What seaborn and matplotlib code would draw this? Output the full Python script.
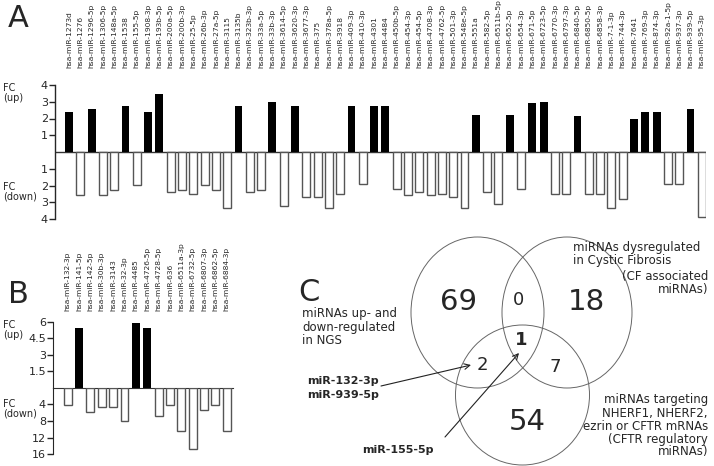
import numpy as np
import pandas as pd
import matplotlib
matplotlib.use('Agg')
import matplotlib.pyplot as plt
from matplotlib.patches import Ellipse
import seaborn as sns

# ── Data ──────────────────────────────────────────────────────────────────────
mirs_a = ['1273d', '1276', '1296-5p', '1306-5p', '148a-5p', '1538', '155-5p',
          '1908-3p', '193b-5p', '200a-5p', '200b-3p', '25-5p', '26b-3p',
          '27a-5p', '3115', '3135b', '323b-3p', '33a-5p', '33b-3p', '3614-5p',
          '3620-3p', '3677-3p', '375', '378a-5p', '3918', '409-3p', '410-3p',
          '4301', '4484', '450b-5p', '454-3p', '454-5p', '4708-3p', '4762-5p',
          '501-3p', '548e-5p', '551a', '582-5p', '6511b-5p', '652-5p',
          '654-3p', '671-5p', '6723-5p', '6770-3p', '6797-3p', '6840-5p',
          '6850-5p', '6858-3p', '7-1-3p', '744-3p', '7641', '769-3p',
          '874-3p', '92a-1-5p', '937-3p', '939-5p', '95-3p']
# signed fold change: >0 up-regulated, <0 down-regulated
fc_a = [2.4, -2.55, 2.55, -2.55, -2.25, 2.75, -1.95, 2.4, 3.45, -2.4,
        -2.25, -2.5, -1.95, -2.25, -3.35, 2.75, -2.4, -2.25, 3.0, -3.2,
        2.76, -2.67, -2.7, -3.35, -2.5, 2.76, -1.94, 2.76, 2.74, -2.18,
        -2.55, -2.4, -2.55, -2.5, -2.7, -3.35, 2.18, -2.4, -3.1, 2.18,
        -2.18, 2.9, 3.0, -2.5, -2.5, 2.14, -2.5, -2.5, -3.35, -2.8,
        1.96, 2.37, 2.37, -1.94, -1.94, 2.55, -3.88]

mirs_b = ['132-3p', '141-5p', '142-5p', '30b-3p', '3143', '32-3p', '4485',
          '4726-5p', '4728-5p', '636', '6511a-3p', '6732-5p', '6807-3p',
          '6862-5p', '6884-3p']
fc_b = [-4.15, 5.48, -5.9, -4.55, -4.55, -8.1, 5.87, 5.48, -6.7, -4.08,
        -10.4, -14.7, -5.4, -4.08, -10.4]

venn_counts = {'NGS': 69, 'NGS&CF': 0, 'CF': 18, 'NGS&CFTR': 2,
               'all': 1, 'CF&CFTR': 7, 'CFTR': 54}

# ── Figure setup ──────────────────────────────────────────────────────────────
sns.set_style('ticks')
plt.rcParams['font.family'] = ['DejaVu Sans']

W, H = 714, 466
fig = plt.figure(figsize=(W / 100, H / 100), dpi=100)


def px_axes(x0, y0, x1, y1):
    return fig.add_axes([x0 / W, 1 - y1 / H, (x1 - x0) / W, (y1 - y0) / H])


def fig_text(x, y, s, **kw):
    fig.text(x / W, 1 - y / H, s, **kw)


LBL = 5.4
TCK = 8
EDGE = '#555555'
FCS = 7

# ── Panel A ───────────────────────────────────────────────────────────────────
df_a = pd.DataFrame({'mir': ['hsa-miR-' + m for m in mirs_a], 'fc': fc_a})
df_a['dir'] = np.where(df_a['fc'] > 0, 'up', 'down')

axA = px_axes(55, 85, 706, 219)
sns.barplot(data=df_a, x='mir', y='fc', hue='dir', order=df_a['mir'],
            palette={'up': 'black', 'down': 'white'}, dodge=False,
            width=0.7, legend=False, ax=axA)
for p in axA.patches:
    if p.get_height() < 0:
        p.set_edgecolor(EDGE); p.set_linewidth(1.0)
    else:
        p.set_edgecolor('black'); p.set_linewidth(0)
axA.set_xlim(-1.24, 56.37)
axA.set_ylim(-4, 4)
axA.axhline(0, color='#333333', lw=1.0, zorder=0)
yt = [-4, -3, -2, -1, 1, 2, 3, 4]
axA.set_yticks(yt)
axA.set_yticklabels([str(abs(v)) for v in yt])
for s in ['top', 'right', 'bottom']:
    axA.spines[s].set_visible(False)
axA.spines['left'].set_linewidth(1.0)
axA.tick_params(axis='y', labelsize=TCK, length=4, width=1, pad=1)
axA.tick_params(axis='x', top=True, labeltop=True, bottom=False,
                labelbottom=False, length=0, pad=12, labelsize=LBL)
plt.setp(axA.get_xticklabels(), rotation=90)
axA.set_xlabel(''); axA.set_ylabel('')
axA.patch.set_alpha(0)

fig_text(3, 83, 'FC\n(up)', fontsize=FCS, va='top', linespacing=0.95)
fig_text(3, 182, 'FC\n(down)', fontsize=FCS, va='top', linespacing=0.95)
fig_text(8, 4, 'A', fontsize=22, va='top')

# ── Panel B ───────────────────────────────────────────────────────────────────
df_b = pd.DataFrame({'mir': ['hsa-miR-' + m for m in mirs_b], 'fc': fc_b})
up_b = df_b[df_b['fc'] > 0]
dn_b = df_b[df_b['fc'] < 0].assign(fc=lambda d: -d['fc'])

axBu = px_axes(53, 322, 233, 387.7)
axBd = px_axes(53, 387.7, 233, 454.3)
sns.barplot(data=up_b, x='mir', y='fc', order=df_b['mir'], color='black',
            width=0.7, linewidth=0, ax=axBu)
sns.barplot(data=dn_b, x='mir', y='fc', order=df_b['mir'], color='white',
            width=0.7, edgecolor=EDGE, linewidth=1.0, ax=axBd)
for ax in (axBu, axBd):
    ax.set_xlim(-1.29, 14.55)
    ax.set_xlabel(''); ax.set_ylabel('')
    ax.spines['top'].set_visible(False)
    ax.spines['right'].set_visible(False)
    ax.tick_params(axis='y', labelsize=TCK, length=4, width=1, pad=1)
    ax.patch.set_alpha(0)
axBu.set_ylim(0, 6)
axBu.set_yticks([1.5, 3, 4.5, 6])
axBu.set_yticklabels(['1.5', '3', '4.5', '6'])
axBu.spines['bottom'].set_color('#333333')
axBu.tick_params(axis='x', top=True, labeltop=True, bottom=False,
                 labelbottom=False, length=0, pad=8, labelsize=LBL)
plt.setp(axBu.get_xticklabels(), rotation=90)
axBd.set_ylim(16, 0)
axBd.set_yticks([4, 8, 12, 16])
axBd.spines['bottom'].set_visible(False)
axBd.tick_params(axis='x', bottom=False, labelbottom=False)

fig_text(3, 320, 'FC\n(up)', fontsize=FCS, va='top', linespacing=0.95)
fig_text(3, 399, 'FC\n(down)', fontsize=FCS, va='top', linespacing=0.95)
fig_text(8, 280, 'B', fontsize=22, va='top')

# ── Panel C (Venn) ────────────────────────────────────────────────────────────
axC = px_axes(280, 228, 714, 466)
axC.set_xlim(280, 714); axC.set_ylim(466, 228)
axC.axis('off')
for cx, cy, w, h in [(477.5, 312.5, 133, 151), (567, 312.5, 130, 151),
                     (522.5, 395, 134, 140)]:
    axC.add_patch(Ellipse((cx, cy), w, h, fill=False, ec='#666666', lw=0.7))

big = dict(fontsize=21, ha='center', va='center')
small = dict(fontsize=13, ha='center', va='center')
axC.text(458, 302, str(venn_counts['NGS']), **big)
axC.text(519, 300, str(venn_counts['NGS&CF']), **small)
axC.text(586, 302, str(venn_counts['CF']), **big)
axC.text(521, 340, str(venn_counts['all']), fontweight='bold', **small)
axC.text(482, 365, str(venn_counts['NGS&CFTR']), **small)
axC.text(555, 367, str(venn_counts['CF&CFTR']), **small)
axC.text(527, 422, str(venn_counts['CFTR']), **big)

txt = dict(fontsize=8.5, linespacing=1.0)
axC.text(302, 327, 'miRNAs up- and\ndown-regulated\nin NGS', ha='left',
         va='center', **txt)
axC.text(573, 254, 'miRNAs dysregulated\nin Cystic Fibrosis', ha='left',
         va='center', **txt)
axC.text(708, 283, '(CF associated\nmiRNAs)', ha='right', va='center',
         multialignment='right', **txt)
axC.text(708, 426, 'miRNAs targeting\nNHERF1, NHERF2,\nezrin or CFTR mRNAs\n'
         '(CFTR regulatory\nmiRNAs)', ha='right', va='center',
         multialignment='right', **txt)
axC.text(307, 388, 'miR-132-3p\nmiR-939-5p', ha='left', va='center',
         fontweight='bold', fontsize=8, linespacing=1.6)
axC.text(362, 450, 'miR-155-5p', ha='left', va='center', fontweight='bold',
         fontsize=8)
arrow = dict(arrowstyle='->', lw=0.8, color='#222222', shrinkA=0, shrinkB=0)
axC.annotate('', xy=(471, 365), xytext=(381, 386), arrowprops=arrow)
axC.annotate('', xy=(519, 353), xytext=(445, 437), arrowprops=arrow)
fig_text(298, 278, 'C', fontsize=22, va='top')

plt.savefig('out.png', dpi=100, facecolor='white')
plt.close()
